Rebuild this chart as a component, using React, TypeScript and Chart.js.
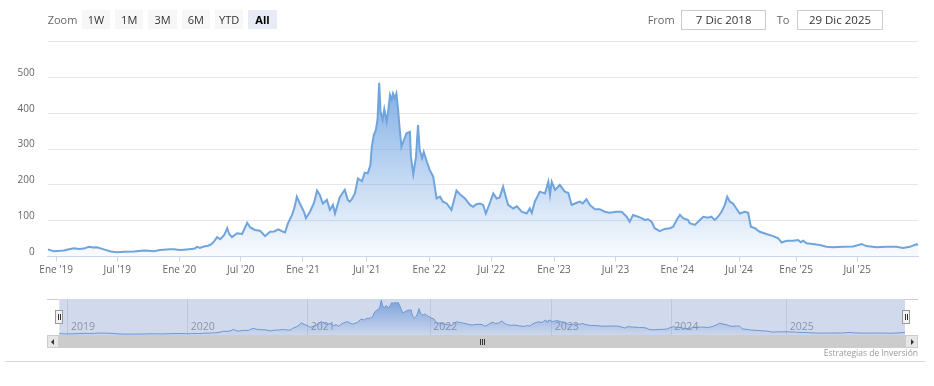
import React, { useEffect, useRef } from 'react';
import { Chart, registerables } from 'chart.js';

Chart.register(...registerables);

const startDate = '2018-12-07';
const endDate = '2025-12-29';

const dates = [
  '2018-12-07','2018-12-17','2018-12-26','2019-01-13','2019-01-24','2019-02-08','2019-02-23','2019-03-10','2019-03-24','2019-04-08',
  '2019-04-20','2019-05-02','2019-05-22','2019-06-12','2019-06-30','2019-07-21','2019-08-19','2019-09-18','2019-10-03','2019-10-18',
  '2019-11-04','2019-11-16','2019-12-04','2019-12-16','2020-01-03','2020-01-15','2020-02-05','2020-02-16','2020-02-22','2020-03-02',
  '2020-03-14','2020-03-26','2020-04-04','2020-04-13','2020-04-22','2020-05-01','2020-05-13','2020-05-22','2020-05-28','2020-06-05',
  '2020-06-20','2020-07-05','2020-07-20','2020-07-29','2020-08-12','2020-08-27','2020-09-11','2020-09-26','2020-10-08','2020-10-20',
  '2020-11-01','2020-11-09','2020-11-18','2020-11-30','2020-12-08','2020-12-14','2020-12-23','2021-01-04','2021-01-10','2021-01-22',
  '2021-02-03','2021-02-12','2021-02-20','2021-03-01','2021-03-13','2021-03-22','2021-03-31','2021-04-06','2021-04-20','2021-04-29',
  '2021-05-05','2021-05-14','2021-05-20','2021-05-26','2021-06-04','2021-06-13','2021-06-25','2021-07-03','2021-07-12','2021-07-20',
  '2021-07-24','2021-07-30','2021-08-05','2021-08-10','2021-08-15','2021-08-19','2021-08-25','2021-08-30','2021-09-06','2021-09-11',
  '2021-09-16','2021-09-21','2021-09-25','2021-09-30','2021-10-05','2021-10-10','2021-10-15','2021-10-20','2021-10-27','2021-11-04',
  '2021-11-14','2021-11-17','2021-11-24','2021-12-02','2021-12-08','2021-12-13','2021-12-20','2021-12-25','2022-01-03','2022-01-12',
  '2022-01-22','2022-02-01','2022-02-11','2022-02-20','2022-03-03','2022-03-17','2022-04-01','2022-04-11','2022-04-26','2022-05-11',
  '2022-05-20','2022-05-30','2022-06-09','2022-06-19','2022-06-27','2022-07-09','2022-07-19','2022-07-29','2022-08-07','2022-08-17',
  '2022-08-25','2022-09-01','2022-09-16','2022-09-27','2022-10-11','2022-10-26','2022-11-04','2022-11-10','2022-11-19','2022-12-04',
  '2022-12-19','2022-12-29','2023-01-03','2023-01-08','2023-01-18','2023-02-01','2023-02-16','2023-02-26','2023-03-08','2023-03-18',
  '2023-04-01','2023-04-10','2023-04-21','2023-05-01','2023-05-16','2023-05-30','2023-06-14','2023-06-29','2023-07-19','2023-08-03',
  '2023-08-18','2023-08-27','2023-09-06','2023-09-21','2023-10-01','2023-10-11','2023-10-20','2023-10-31','2023-11-09','2023-11-24',
  '2023-12-09','2023-12-24','2024-01-03','2024-01-13','2024-01-23','2024-02-01','2024-02-16','2024-02-21','2024-03-07','2024-03-22',
  '2024-04-01','2024-04-15','2024-04-25','2024-05-05','2024-05-15','2024-05-25','2024-06-04','2024-06-11','2024-06-19','2024-06-28',
  '2024-07-08','2024-07-18','2024-08-02','2024-08-12','2024-08-20','2024-09-01','2024-09-15','2024-10-05','2024-10-25','2024-11-09',
  '2024-11-19','2024-12-04','2024-12-23','2025-01-07','2025-01-15','2025-01-22','2025-02-01','2025-02-20','2025-03-12','2025-04-01',
  '2025-04-20','2025-05-20','2025-06-19','2025-07-14','2025-07-28','2025-08-27','2025-09-26','2025-10-25','2025-11-14','2025-12-04',
  '2025-12-23','2025-12-29'
];

const prices = [
  20,17,15,16,17,20,23,21,22,27,
  25,26,20,14,12,13,14,17,16,15,
  18,19,20,20,18,19,21,22,27,24,
  28,30,34,42,54,48,60,79,62,54,
  65,63,94,81,74,72,57,69,70,76,
  70,67,93,116,140,167,148,125,107,125,
  150,184,172,148,158,130,144,120,165,178,
  186,158,153,160,176,218,210,234,232,255,
  306,339,353,381,485,404,381,411,376,409,
  451,437,455,441,455,409,353,306,325,344,
  348,278,230,278,367,297,274,292,265,241,
  223,162,167,153,148,130,184,174,162,144,
  139,146,148,144,120,150,176,162,165,195,
  167,144,134,140,125,120,134,122,153,181,
  176,209,172,209,186,200,181,178,144,148,
  153,148,160,144,132,132,125,122,125,125,
  111,97,116,111,107,102,104,97,79,71,
  77,79,83,102,116,107,102,93,88,102,
  111,108,111,102,111,125,144,167,153,148,
  134,120,125,122,83,79,69,63,57,51,
  39,44,44,46,40,44,37,35,32,27,
  26,27,28,35,29,26,27,27,24,27,
  34,33
];

const xTickDates = ['2019-01-01','2019-07-01','2020-01-01','2020-07-01','2021-01-01','2021-07-09','2022-01-10','2022-07-13','2023-01-15','2023-07-16','2024-01-15','2024-07-16','2025-01-01','2025-07-01'];
const xTickLabels = ["Ene '19","Jul '19","Ene '20","Jul '20","Ene '21","Jul '21","Ene '22","Jul '22","Ene '23","Jul '23","Ene '24","Jul '24","Ene '25","Jul '25"];
const yTicks = [0, 100, 200, 300, 400, 500, 600];
const navYearDates = ['2019-01-01','2020-01-01','2021-01-01','2022-01-10','2023-01-15','2024-01-15','2025-01-01'];
const navYearLabels = ['2019','2020','2021','2022','2023','2024','2025'];
const rangeButtons = ['1W','1M','3M','6M','YTD','All'];
const selectedButton = 'All';
const fromText = '7 Dic 2018';
const toText = '29 Dic 2025';
const creditText = 'Estrategias de Inversión';

const t = (s: string) => Date.UTC(+s.slice(0, 4), +s.slice(5, 7) - 1, +s.slice(8, 10));

const FONT = "'Open Sans', 'Noto Sans', sans-serif";

export default function App() {
  const mainRef = useRef<HTMLCanvasElement>(null);
  const navRef = useRef<HTMLCanvasElement>(null);

  useEffect(() => {
    Chart.defaults.font.family = FONT;
    const points = dates.map((d, i) => ({ x: t(d), y: prices[i] }));

    const mainChart = new Chart(mainRef.current!, {
      type: 'line',
      data: {
        datasets: [{
          data: points,
          borderColor: '#6fa5dc',
          borderWidth: 2,
          pointRadius: 0,
          tension: 0,
          fill: 'origin',
          backgroundColor: (ctx: any) => {
            const { chart } = ctx;
            const area = chart.chartArea;
            if (!area) return 'rgba(110,165,225,0.3)';
            const g = chart.ctx.createLinearGradient(0, area.top + 40, 0, area.bottom);
            g.addColorStop(0, 'rgba(105,160,225,0.85)');
            g.addColorStop(1, 'rgba(105,160,225,0.04)');
            return g;
          },
        }],
      },
      options: {
        animation: false,
        responsive: false,
        maintainAspectRatio: false,
        layout: { padding: { left: 0, right: 934 - 918.3, top: 41.5, bottom: 0 } },
        plugins: { legend: { display: false }, tooltip: { enabled: false } },
        scales: {
          x: {
            type: 'linear',
            min: t(startDate),
            max: t(endDate),
            afterBuildTicks: (s: any) => { s.ticks = xTickDates.map((d) => ({ value: t(d) })); },
            afterFit: (s: any) => { s.height = 290 - 256.5; },
            ticks: {
              autoSkip: false,
              maxRotation: 0,
              minRotation: 0,
              padding: 3,
              color: '#666',
              font: { size: 10, family: FONT },
              callback: (_v: any, i: number) => xTickLabels[i],
            },
            grid: { drawOnChartArea: false, drawTicks: true, tickLength: 5, color: '#ccd6eb' },
            border: { color: '#ccd6eb' },
          },
          y: {
            type: 'linear',
            min: 0,
            max: 600,
            afterBuildTicks: (s: any) => { s.ticks = yTicks.map((v) => ({ value: v })); },
            afterFit: (s: any) => { s.width = 47.7; },
            ticks: {
              padding: 13,
              labelOffset: -4.5,
              color: '#666',
              font: { size: 10, family: FONT },
              callback: (v: any) => (v === 600 ? '' : String(v)),
            },
            grid: { color: '#e6e6e6', drawTicks: false },
            border: { display: false },
          },
        },
      },
    } as any);

    const navDecor = {
      id: 'navDecor',
      beforeDatasetsDraw(chart: any) {
        const { ctx, chartArea, scales } = chart;
        ctx.save();
        ctx.strokeStyle = '#e6e6e6';
        ctx.lineWidth = 1;
        navYearDates.forEach((d) => {
          const x = Math.round(scales.x.getPixelForValue(t(d))) + 0.5;
          ctx.beginPath();
          ctx.moveTo(x, chartArea.top);
          ctx.lineTo(x, chartArea.bottom);
          ctx.stroke();
        });
        ctx.fillStyle = '#999';
        ctx.font = `10.5px ${FONT}`;
        ctx.textBaseline = 'middle';
        navYearDates.forEach((d, i) => {
          const x = scales.x.getPixelForValue(t(d));
          ctx.fillText(navYearLabels[i], x + 3.5, chartArea.top + 28.5);
        });
        ctx.restore();
      },
      afterDatasetsDraw(chart: any) {
        const { ctx, chartArea } = chart;
        ctx.save();
        ctx.fillStyle = 'rgba(102,133,194,0.3)';
        ctx.fillRect(chartArea.left, chartArea.top, chartArea.right - chartArea.left, chartArea.bottom - chartArea.top);
        ctx.restore();
      },
    };

    const navChart = new Chart(navRef.current!, {
      type: 'line',
      data: {
        datasets: [{
          data: points,
          borderColor: '#6f9fd8',
          borderWidth: 1,
          pointRadius: 0,
          tension: 0,
          fill: 'origin',
          backgroundColor: (ctx: any) => {
            const { chart } = ctx;
            const area = chart.chartArea;
            if (!area) return 'rgba(90,145,220,0.3)';
            const g = chart.ctx.createLinearGradient(0, area.top, 0, area.bottom);
            g.addColorStop(0, 'rgba(90,145,220,0.75)');
            g.addColorStop(1, 'rgba(90,145,220,0.05)');
            return g;
          },
        }],
      },
      options: {
        animation: false,
        responsive: false,
        maintainAspectRatio: false,
        layout: { padding: { left: 59.3, right: 934 - 905, top: 9, bottom: 5 } },
        plugins: { legend: { display: false }, tooltip: { enabled: false } },
        scales: {
          x: { type: 'linear', display: false, min: t(startDate), max: t(endDate) },
          y: { type: 'linear', display: false, min: 0, max: 500 },
        },
      },
      plugins: [navDecor],
    } as any);

    return () => {
      mainChart.destroy();
      navChart.destroy();
    };
  }, []);

  const btnLefts = [81.7, 115, 148.3, 181.7, 215, 248.3];
  const abs = (l: number, tp: number, w: number, h: number): React.CSSProperties => ({
    position: 'absolute', left: l, top: tp, width: w, height: h, boxSizing: 'border-box',
  });

  return (
    <div style={{ position: 'absolute', left: 0, top: 0, width: 934, height: 386, background: '#fff', overflow: 'hidden', fontFamily: FONT }}>
      <canvas ref={mainRef} width={934} height={290} style={{ position: 'absolute', left: 0, top: 0, width: 934, height: 290 }} />
      <canvas ref={navRef} width={934} height={50} style={{ position: 'absolute', left: 0, top: 290, width: 934, height: 50 }} />

      {/* range selector */}
      <div style={{ ...abs(47.7, 10, 32, 19), lineHeight: '19px', fontSize: 11, color: '#666' }}>Zoom</div>
      {rangeButtons.map((b, i) => (
        <div key={b} style={{
          ...abs(btnLefts[i], 10, 28.4, 19), lineHeight: '19px', fontSize: 11, textAlign: 'center',
          background: b === selectedButton ? '#e6ebf5' : '#f7f7f7',
          color: b === selectedButton ? '#000' : '#333',
          fontWeight: b === selectedButton ? 700 : 400,
        }}>{b}</div>
      ))}

      {/* date inputs */}
      <div style={{ ...abs(647.7, 10, 32, 19), lineHeight: '19px', fontSize: 11, color: '#666' }}>From</div>
      <div style={{ ...abs(681, 10, 85.3, 19.5), lineHeight: '17px', fontSize: 11.5, color: '#333', textAlign: 'center', border: '1px solid #cccccc' }}>{fromText}</div>
      <div style={{ ...abs(776.7, 10, 18, 19), lineHeight: '19px', fontSize: 11, color: '#666' }}>To</div>
      <div style={{ ...abs(797.3, 10, 85.4, 19.5), lineHeight: '17px', fontSize: 11.5, color: '#333', textAlign: 'center', border: '1px solid #cccccc' }}>{toText}</div>

      {/* navigator outline */}
      <div style={{ ...abs(46.7, 299, 12.6, 1), background: '#cccccc' }} />
      <div style={{ ...abs(905, 299, 13, 1), background: '#cccccc' }} />

      {/* handles */}
      {[55, 901.5].map((l) => (
        <div key={l} style={{ ...abs(l, 310, 8, 14), background: '#f2f2f2', border: '1px solid #999' }}>
          <div style={{ position: 'absolute', left: 2, top: 3, width: 1, height: 6, background: '#333' }} />
          <div style={{ position: 'absolute', left: 4, top: 3, width: 1, height: 6, background: '#333' }} />
        </div>
      ))}

      {/* scrollbar */}
      <div style={{ ...abs(46.7, 335, 871.3, 13.3), background: '#f2f2f2' }} />
      <div style={{ ...abs(59.3, 335, 845.7, 13.3), background: '#cccccc' }} />
      <div style={{ ...abs(46.7, 335, 12.6, 13.3), background: '#e6e6e6', border: '1px solid #cccccc' }}>
        <div style={{ position: 'absolute', left: 3, top: 3, width: 0, height: 0, borderTop: '3px solid transparent', borderBottom: '3px solid transparent', borderRight: '3px solid #333' }} />
      </div>
      <div style={{ ...abs(905, 335, 13, 13.3), background: '#e6e6e6', border: '1px solid #cccccc' }}>
        <div style={{ position: 'absolute', left: 5, top: 3, width: 0, height: 0, borderTop: '3px solid transparent', borderBottom: '3px solid transparent', borderLeft: '3px solid #333' }} />
      </div>
      {[480, 482, 484].map((l) => (
        <div key={l} style={{ ...abs(l, 338.5, 1, 6), background: '#333' }} />
      ))}

      {/* credits and bottom line */}
      <div style={{ position: 'absolute', right: 934 - 918, top: 347, fontSize: 8.5, lineHeight: '11px', color: '#999', whiteSpace: 'nowrap' }}>{creditText}</div>
      <div style={{ ...abs(5, 361, 920, 1), background: '#d8d8d8' }} />
    </div>
  );
}
